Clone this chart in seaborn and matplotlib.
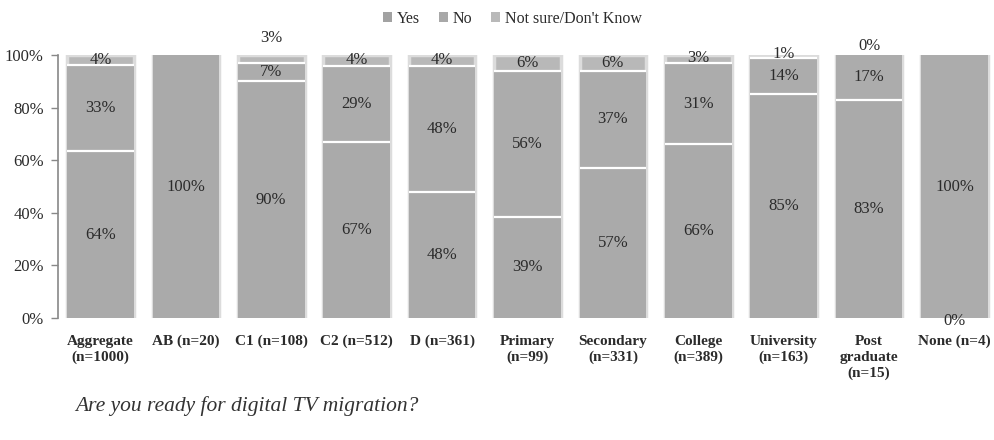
import numpy as np
import pandas as pd
import matplotlib
matplotlib.use("Agg")
import matplotlib.pyplot as plt
import seaborn as sns
from matplotlib.patches import Patch

categories = ["Aggregate\n(n=1000)", "AB (n=20)", "C1 (n=108)", "C2 (n=512)", "D (n=361)",
              "Primary\n(n=99)", "Secondary\n(n=331)", "College\n(n=389)", "University\n(n=163)",
              "Post\ngraduate\n(n=15)", "None (n=4)"]
yes = [64, 100, 90, 67, 48, 39, 57, 66, 85, 83, 0]
no = [33, 0, 7, 29, 48, 56, 37, 31, 14, 17, 100]
not_sure = [4, 0, 3, 4, 4, 6, 6, 3, 1, 0, 0]
series_names = ["Yes", "No", "Not sure/Don't Know"]
title = "Are you ready for digital TV migration?"

sns.set_theme(style="white")
plt.rcParams["font.family"] = ["Liberation Serif", "DejaVu Serif"]

c_yes, c_no, c_ns = "#aaaaaa", "#acacac", "#b8b8b8"
txt = "#2b2b2b"

yes_a = np.array(yes, float)
no_a = np.array(no, float)
ns_a = np.array(not_sure, float)
tot = yes_a + no_a + ns_a
yes_top = yes_a / tot * 100
no_top = (yes_a + no_a) / tot * 100
ns_top = tot / tot * 100

fig = plt.figure(figsize=(9.95, 4.4), dpi=100)
ax = fig.add_axes([0.058, 0.277, 0.94, 0.598])

W = 0.78
sns.barplot(x=categories, y=ns_top, color=c_ns, saturation=1, width=W, ax=ax,
            edgecolor="#dcdcdc", linewidth=2.5, order=categories)
sns.barplot(x=categories, y=no_top, color=c_no, saturation=1, width=W, ax=ax,
            linewidth=0, order=categories)
sns.barplot(x=categories, y=yes_top, color=c_yes, saturation=1, width=W, ax=ax,
            linewidth=0, order=categories)

for cont, tops in [(ax.containers[1], no_top), (ax.containers[2], yes_top)]:
    for rect, t in zip(cont.patches, tops):
        if 0 < t < 100:
            x0 = rect.get_x(); x1 = x0 + rect.get_width()
            ax.plot([x0, x1], [t, t], color="white", lw=1.6, solid_capstyle="butt", zorder=5)

label_pos_override = {(2, 2): 106.5, (9, 2): 103.5, (8, 2): 100.5, (10, 0): -1.0, (7, 2): 98.8}
for i in range(len(categories)):
    segs = [(yes_a[i], 0, yes_top[i]), (no_a[i], yes_top[i], no_top[i]), (ns_a[i], no_top[i], ns_top[i])]
    for j, (v, lo, hi) in enumerate(segs):
        key = (i, j)
        if key in label_pos_override:
            y = label_pos_override[key]
        elif v > 0:
            y = (lo + hi) / 2
        else:
            continue
        ax.text(i, y, f"{int(v)}%", ha="center", va="center", fontsize=12, color=txt, zorder=6)

ax.set_ylim(0, 100)
ax.set_xlim(-0.5, 10.45)
ax.set_yticks(np.arange(0, 101, 20))
ax.set_yticklabels([f"{v}%" for v in range(0, 101, 20)], fontsize=12, color=txt)
ax.tick_params(axis="y", left=True, length=5, color="#888888", width=1, pad=5)
ax.tick_params(axis="x", bottom=False, pad=6)
for lab in ax.get_xticklabels():
    lab.set_fontweight("bold")
    lab.set_fontsize(11)
    lab.set_color(txt)
    lab.set_va("top")
    lab.set_linespacing(1.3)
sns.despine(ax=ax, top=True, right=True, bottom=True, left=False)
ax.spines["left"].set_color("#888888")
ax.spines["left"].set_linewidth(1.2)
ax.set_xlabel("")
ax.set_ylabel("")

handles = [Patch(facecolor=c, edgecolor="none") for c in ["#a2a2a2", "#a8a8a8", "#b9b9b9"]]
fig.legend(handles, series_names, loc="center", bbox_to_anchor=(0.515, 0.957), ncol=3,
           frameon=False, fontsize=11.5, handlelength=0.55, handleheight=0.55, handletextpad=0.3,
           columnspacing=1.2, labelcolor=txt)

fig.text(0.076, 0.078, title, fontsize=15.5, style="italic", color="#333333", ha="left", va="center")

fig.savefig("out.png", dpi=100, facecolor="white")
